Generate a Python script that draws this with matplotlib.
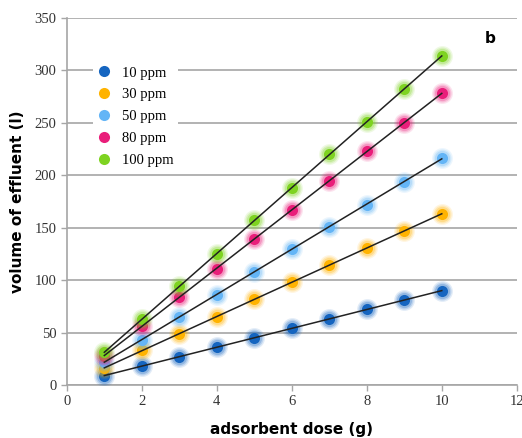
import matplotlib.pyplot as plt
import numpy as np

dose = [1, 2, 3, 4, 5, 6, 7, 8, 9, 10]
labels = ['10 ppm', '30 ppm', '50 ppm', '80 ppm', '100 ppm']
colors = ['#1565c0', '#ffb300', '#64b5f6', '#e91e7a', '#7ed321']
vol_10 = [9, 18, 27, 36, 45, 54, 63, 72, 81, 90]
vol_30 = [16, 33, 49, 65, 82, 98, 114, 131, 147, 163]
vol_50 = [22, 43, 65, 86, 108, 130, 151, 172, 194, 216]
vol_80 = [28, 56, 84, 111, 139, 167, 195, 223, 250, 278]
vol_100 = [31, 63, 94, 125, 157, 188, 220, 251, 282, 314]
series = [vol_10, vol_30, vol_50, vol_80, vol_100]

fig = plt.figure(figsize=(5.22, 4.38), dpi=100)
ax = fig.add_axes([0.128, 0.121, 0.862, 0.838])

grey = '#a6a6a6'
for vals, c, lab in zip(series, colors, labels):
    x = np.array(dose)
    y = np.array(vals)
    k, b = np.polyfit(x, y, 1)
    ax.plot([x[0], x[-1]], [k * x[0] + b, k * x[-1] + b], color='#222222', lw=1.1, zorder=4)
    # soft glow around points
    for s, a in [(15, 0.12), (13, 0.18), (11, 0.25)]:
        ax.plot(x, y, 'o', ms=s, color=c, alpha=a, mec='none', zorder=3)
    ax.plot(x, y, 'o', ms=8, color=c, mec='none', zorder=3, label=lab)

ax.set_xlim(0, 12)
ax.set_ylim(0, 350)
ax.set_xticks(range(0, 13, 2))
ax.set_yticks(range(0, 351, 50))
ax.yaxis.grid(True, color=grey, lw=1.2)
ax.set_axisbelow(True)
for sp in ['top', 'right']:
    ax.spines[sp].set_visible(False)
for sp in ['left', 'bottom']:
    ax.spines[sp].set_color(grey)
    ax.spines[sp].set_linewidth(1.2)
ax.tick_params(colors=grey, length=4, width=1, labelcolor='#333333', labelsize=10.5)
for t in ax.get_xticklabels() + ax.get_yticklabels():
    t.set_family('Liberation Serif')

ax.set_xlabel('adsorbent dose (g)', fontsize=11, fontweight='bold', labelpad=10)
ax.set_ylabel('volume of effluent (l)', fontsize=11, fontweight='bold', labelpad=7)
ax.text(11.3, 330, 'b', fontsize=11, fontweight='bold', ha='center', va='center')

leg = ax.legend(loc='upper left', bbox_to_anchor=(0.041, 0.90), frameon=True, framealpha=1,
                edgecolor='none', prop={'family': 'Liberation Serif', 'size': 10.5},
                handlelength=1.0, handletextpad=0.7, labelspacing=0.6, borderpad=0.3)

fig.savefig('out.png', dpi=100)
